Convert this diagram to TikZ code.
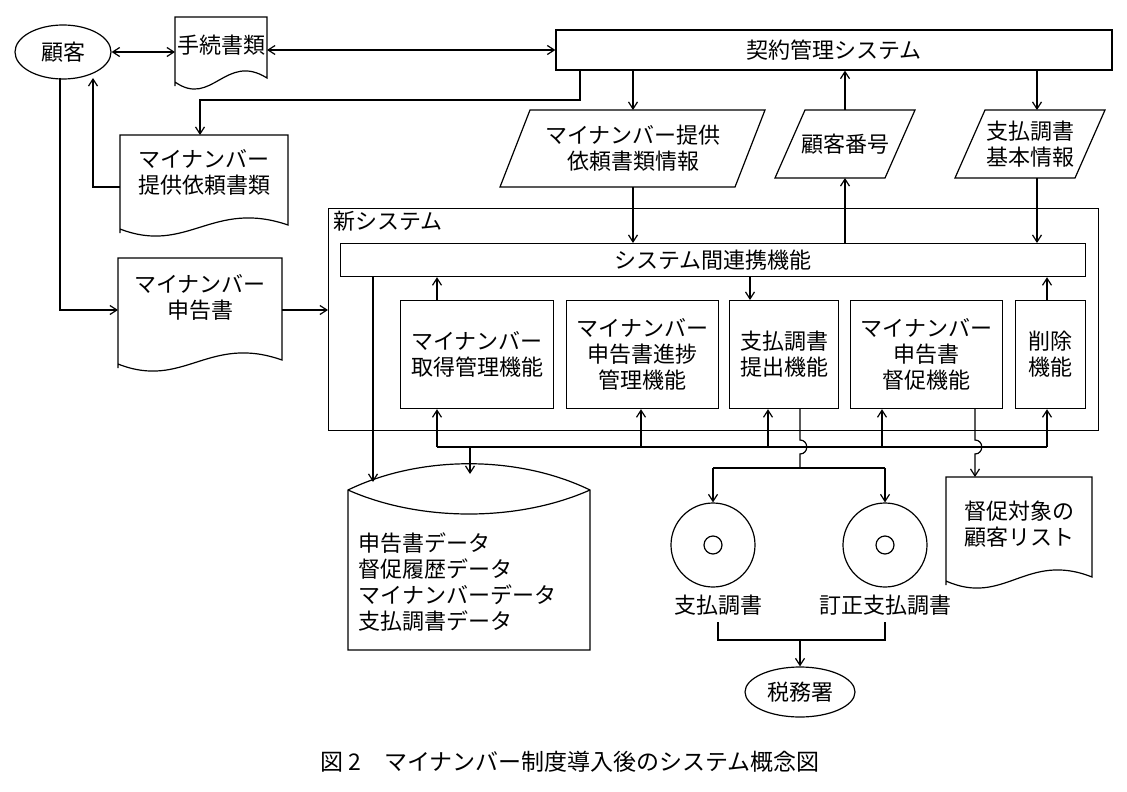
\documentclass[tikz,border=0pt]{standalone}
\usepackage{fontspec}
\setmainfont{Noto Sans CJK JP}
\usetikzlibrary{shapes.geometric,arrows.meta,calc}
\begin{document}
\begin{tikzpicture}[x=1pt,y=-1pt,line width=1.2pt,
  >={Straight Barb[length=7pt,width=9pt]},
  txt/.style={font=\fontsize{22}{26}\selectfont,align=center,inner sep=0pt},
  box/.style={txt,draw,minimum width=#1,minimum height=108},
  doc/.style={txt,minimum width=#1}]
\useasboundingbox (0,0) rectangle (1127,792);
\node[txt,draw,ellipse,minimum width=96,minimum height=54,inner sep=0pt] (cust) at (63,52) {顧客};
\newcommand{\docwave}[5]{%
  \draw (#1,#4) -- (#1,#2) -- (#3,#2) -- (#3,#4-8)
   .. controls ({#3-(#3-#1)*0.45},{#4-34}) and ({#1+(#3-#1)*0.4},{#4+22}) .. (#1,#4-4) -- cycle;}
\docwave{175}{17}{267}{86}{}
\node[txt] (tetsu) at (221,45) {手続書類};
\coordinate (tetsuR) at (267,50);
\coordinate (tetsuL) at (175,52);
\docwave{120}{135}{288}{233}{}
\node[txt] (irai) at (204,172) {マイナンバー\\提供依頼書類};
\docwave{118}{258}{282}{368}{}
\node[txt] (shinkoku) at (200,297) {マイナンバー\\申告書};
\docwave{946}{477}{1092}{585}{}
\node[txt] (list) at (1019,524) {督促対象の\\顧客リスト};
\node[txt,draw,minimum width=556,minimum height=40] (kei) at (834,50) {契約管理システム};
\newcommand{\para}[4]{\draw ({#1+30},#2) -- (#3,#2) -- ({#3-30},#4) -- (#1,#4) -- cycle;}
\para{500}{110}{765}{187}
\node[txt] (pinfo) at (633,148) {マイナンバー提供\\依頼書類情報};
\para{775}{110}{915}{178}
\node[txt] (cno) at (845,144) {顧客番号};
\para{955}{110}{1105}{178}
\node[txt] (pay) at (1030,144) {支払調書\\基本情報};
\node[draw,minimum width=770,minimum height=222,anchor=north west] (frame) at (328,208) {};
\node[txt,anchor=north west] (fl) at (333,211) {新システム};
\node[txt,draw,minimum width=745,minimum height=33,anchor=north west] (link) at (340,243) {システム間連携機能};
\node[box=153,anchor=north west] (b1) at (400,300) {マイナンバー\\取得管理機能};
\node[box=152,anchor=north west] (b2) at (566,300) {マイナンバー\\申告書進捗\\管理機能};
\node[box=109,anchor=north west] (b3) at (729,300) {支払調書\\提出機能};
\node[box=152,anchor=north west] (b4) at (850,300) {マイナンバー\\申告書\\督促機能};
\node[box=70,anchor=north west] (b5) at (1015,300) {削除\\機能};
\draw (348,490) .. controls (420,455) and (518,455) .. (590,490)
  -- (590,650) -- (348,650) -- cycle;
\draw (348,490) .. controls (420,522) and (518,522) .. (590,490);
\node[txt,align=left,anchor=north west] (db) at (358,532) {申告書データ\\督促履歴データ\\マイナンバーデータ\\支払調書データ};
\node[draw,circle,minimum size=84] (d1) at (713,545) {};
\node[draw,circle,minimum size=18] at (713,545) {};
\node[draw,circle,minimum size=84] (d2) at (885,545) {};
\node[draw,circle,minimum size=18] at (885,545) {};
\node[txt] (l1) at (718,605) {支払調書};
\node[txt] (l2) at (885,605) {訂正支払調書};
\node[txt,draw,ellipse,minimum width=110,minimum height=50] (tax) at (800,692) {税務署};
\node[txt,font=\fontsize{23}{26}\selectfont] (cap) at (570,762) {図 2\quad マイナンバー制度導入後のシステム概念図};
\draw[<->] (cust.east) -- (tetsuL);
\draw[<->] (tetsuR) -- (kei.west |- tetsuR);
\draw[->] (kei.south -| 580,0) -- (580,100) -- (200,100) -- (200,135);
\draw[->] (120,187) -- (93,187) -- (93,78);
\draw[->] (60,78) -- (60,310) -- (118,310);
\draw[->] (282,310) -- (frame.west |- 0,310);
\draw[->] (kei.south -| 633,0) -- (633,110);
\draw[->] (633,187) -- (link.north -| 633,0);
\draw[->] (link.north -| 845,0) -- (845,178);
\draw[->] (845,110) -- (kei.south -| 845,0);
\draw[->] (kei.south -| 1037,0) -- (1037,110);
\draw[->] (1037,178) -- (link.north -| 1037,0);
\draw[->] (b1.north -| 437,0) -- (link.south -| 437,0);
\draw[->] (link.south -| 750,0) -- (b3.north -| 750,0);
\draw[->] (b5.north -| 1047,0) -- (link.south -| 1047,0);
\draw[->] (link.south -| 373,0) -- (373,482);
\draw (437,447) -- (1047,447);
\foreach \x/\b in {437/b1,641/b2,768/b3,882/b4,1047/b5} \draw[->] (\x,447) -- (\b.south -| \x,0);
\draw[->] (470,447) -- (470,474);
\draw (b3.south -| 800,0) -- (800,440) .. controls (809,440) and (809,454) .. (800,454) -- (800,468);
\draw[->] (b4.south -| 975,0) -- (975,440) .. controls (984,440) and (984,454) .. (975,454) -- (975,477);
\draw (713,468) -- (885,468);
\draw[->] (713,468) -- (d1.north);
\draw[->] (885,468) -- (d2.north);
\draw (718,622) -- (718,640) -- (885,640) -- (885,622);
\draw[->] (800,640) -- (tax.north);
\end{tikzpicture}
\end{document}
